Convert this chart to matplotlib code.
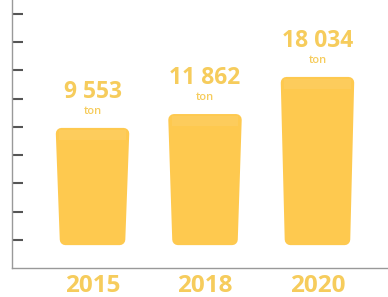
#!/usr/bin/env python
# plot.py - yearly tonnage shown as tapered "cup" bars with value labels.
import numpy as np
import matplotlib
matplotlib.use("Agg")
import matplotlib.pyplot as plt
from matplotlib.patches import Polygon

years = ["2015", "2018", "2020"]
tons = [9553, 11862, 18034]
value_labels = ["9 553", "11 862", "18 034"]
unit = "ton"

BAR = "#FEC94F"
TXT = "#F6CC5C"
BASE = -9900          # visual pedestal the bars grow from
LID = 0.325           # half width of the bar top (x units)
FOOT = 0.29           # half width of the bar bottom
FONT = ["Open Sans", "DejaVu Sans"]


def main():
    fig = plt.figure(figsize=(3.88, 2.97), dpi=100)
    ax = fig.add_axes([12 / 388, 29 / 297, 376 / 388, 268 / 297])
    ax.set_xlim(-0.716, 2.627)
    ax.set_ylim(-13730, 30860)

    py, px = 900, 0.048  # shrink for the thick rounded outline
    for i, v in enumerate(tons):
        top = v - py
        bot = BASE + py
        pts = [(i - FOOT + px, bot), (i + FOOT - px, bot),
               (i + LID - px, top), (i - LID + px, top)]
        ax.add_patch(Polygon(pts, closed=True, facecolor=BAR, edgecolor=BAR,
                             linewidth=8, joinstyle="round"))
        # slightly lighter lid band
        lid = [(i - LID + 0.03, v - 2000), (i + LID - 0.03, v - 2000),
               (i + LID - 0.03, v - 300), (i - LID + 0.03, v - 300)]
        ax.add_patch(Polygon(lid, closed=True, facecolor="#FDCC5C",
                             edgecolor="none"))
        ax.text(i, v + 6000, value_labels[i], ha="center", va="center",
                fontsize=16.5, fontweight="bold", color=TXT, family=FONT)
        ax.text(i, v + 2700, unit, ha="center", va="center",
                fontsize=8, fontweight="semibold", color=TXT, family=FONT)

    ax.set_xticks(range(len(years)))
    ax.set_xticklabels(years, fontsize=17.5, fontweight="bold", color=TXT,
                       family=FONT)
    ax.tick_params(axis="x", length=0, pad=4)
    ax.set_yticks(np.linspace(-9070, 28540, 9))
    ax.set_yticklabels([])
    ax.tick_params(axis="y", direction="in", length=8, width=1.5,
                   color="#555555")
    for s in ("top", "right"):
        ax.spines[s].set_visible(False)
    for s in ("left", "bottom"):
        ax.spines[s].set_color("#999999")
        ax.spines[s].set_linewidth(1)

    fig.savefig("out.png", dpi=100, facecolor="white")


if __name__ == "__main__":
    main()
